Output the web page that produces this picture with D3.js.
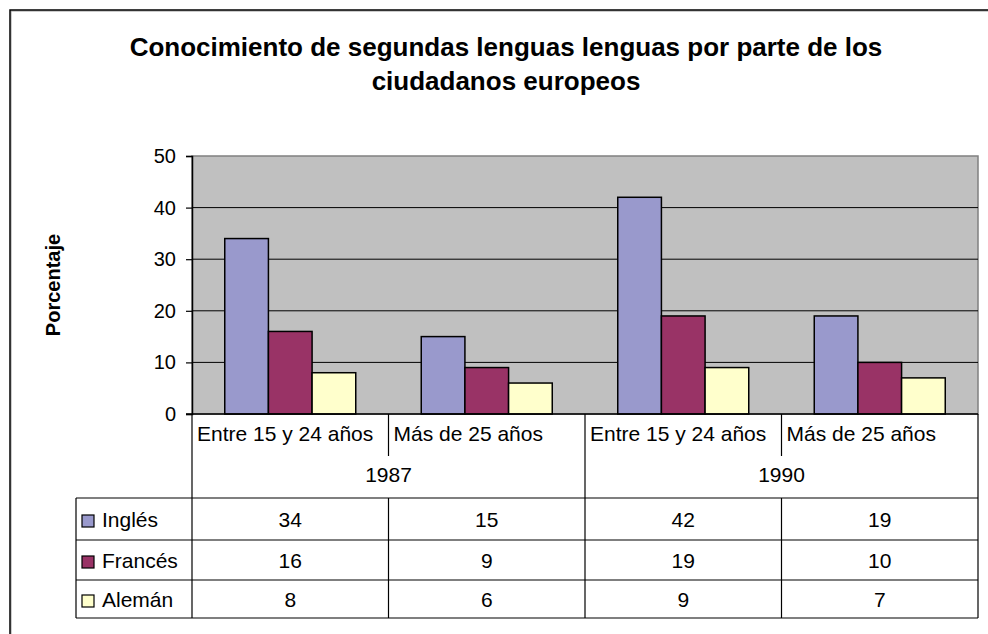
<!DOCTYPE html>
<html>
<head>
<meta charset="utf-8">
<script src="https://cdn.jsdelivr.net/npm/d3@7"></script>
<style>
  body { margin: 0; background: #fff; }
  text { font-family: Arial, "Liberation Sans", sans-serif; fill: #000; }
</style>
</head>
<body>
<svg id="chart" width="988" height="634"></svg>
<script>
// data
const years = ['1987', '1990'];
const ageGroups = ['Entre 15 y 24 años', 'Más de 25 años'];
const series = ['Inglés', 'Francés', 'Alemán'];
const ingles = [34, 15, 42, 19];
const frances = [16, 9, 19, 10];
const aleman = [8, 6, 9, 7];
const yTicks = [0, 10, 20, 30, 40, 50];

const values = [ingles, frances, aleman];
const colors = ['#9999CC', '#993366', '#FFFFCC'];

// categories: year x age group
const cats = [];
years.forEach(y => ageGroups.forEach(a => cats.push(y + '|' + a)));

const svg = d3.select('#chart');
const plot = { left: 192, right: 978, top: 156, bottom: 414 };
const table = { left: 76, sub: 456, head: 498, rows: [498, 540, 580, 618] };

// outer frame
svg.append('rect')
  .attr('x', 11).attr('y', 11).attr('width', 1000).attr('height', 700)
  .attr('fill', 'none').attr('stroke', '#999').attr('stroke-width', 1);
svg.append('rect')
  .attr('x', 10).attr('y', 10).attr('width', 1000).attr('height', 700)
  .attr('fill', 'none').attr('stroke', '#000').attr('stroke-width', 1.5);

// title
const title = svg.append('text')
  .attr('text-anchor', 'middle')
  .style('font-weight', 'bold')
  .style('font-size', '26px');
title.append('tspan').attr('x', 506).attr('y', 56)
  .text('Conocimiento de segundas lenguas lenguas por parte de los');
title.append('tspan').attr('x', 506).attr('y', 90)
  .text('ciudadanos europeos');

const x0 = d3.scaleBand().domain(cats).range([plot.left, plot.right]);
const x1 = d3.scaleBand().domain(series).range([0, x0.bandwidth()])
  .paddingInner(0).paddingOuter(0.75);
const y = d3.scaleLinear().domain([0, 50]).range([plot.bottom, plot.top]);

// plot background
svg.append('rect')
  .attr('x', plot.left).attr('y', plot.top)
  .attr('width', plot.right - plot.left).attr('height', plot.bottom - plot.top)
  .attr('fill', '#C0C0C0').attr('stroke', '#808080').attr('stroke-width', 1.5);

// gridlines
svg.append('g').selectAll('line')
  .data(yTicks.filter(d => d > 0 && d < 50))
  .enter().append('line')
  .attr('x1', plot.left).attr('x2', plot.right)
  .attr('y1', d => y(d)).attr('y2', d => y(d))
  .attr('stroke', '#000').attr('stroke-width', 1);

// y axis
const yAxis = d3.axisLeft(y).tickValues(yTicks).tickSize(6).tickPadding(10);
const ya = svg.append('g')
  .attr('transform', `translate(${plot.left},0)`)
  .call(yAxis);
ya.select('.domain').attr('stroke', '#000').attr('stroke-width', 1.5);
ya.selectAll('.tick line').attr('stroke', '#000').attr('stroke-width', 1.2);
ya.selectAll('.tick text')
  .style('font-size', '20px').attr('font-family', null);

svg.append('text')
  .attr('transform', `translate(60,${(plot.top + plot.bottom) / 2}) rotate(-90)`)
  .attr('text-anchor', 'middle')
  .style('font-weight', 'bold').style('font-size', '20px')
  .text('Porcentaje');

// bars
const flat = [];
cats.forEach((c, i) => series.forEach((s, j) => flat.push({ c, s, v: values[j][i], col: colors[j] })));
svg.append('g').selectAll('rect')
  .data(flat)
  .enter().append('rect')
  .attr('x', d => x0(d.c) + x1(d.s))
  .attr('y', d => y(d.v))
  .attr('width', x1.bandwidth())
  .attr('height', d => y(0) - y(d.v))
  .attr('fill', d => d.col)
  .attr('stroke', '#000').attr('stroke-width', 1.5);

// bottom axis line
svg.append('line')
  .attr('x1', plot.left - 6).attr('x2', plot.right)
  .attr('y1', plot.bottom).attr('y2', plot.bottom)
  .attr('stroke', '#000').attr('stroke-width', 1.5);

// data table
const tg = svg.append('g');
const line = (xa, ya_, xb, yb) => tg.append('line')
  .attr('x1', xa).attr('y1', ya_).attr('x2', xb).attr('y2', yb)
  .attr('stroke', '#000').attr('stroke-width', 1.2);

// vertical lines
line(plot.left, plot.bottom, plot.left, table.rows[3]);
line(plot.right, plot.bottom, plot.right, table.rows[3]);
line(table.left, table.head, table.left, table.rows[3]);
years.forEach((yr, i) => {
  if (i > 0) line(x0(cats[i * 2]), plot.bottom, x0(cats[i * 2]), table.rows[3]);
  const mid = x0(cats[i * 2 + 1]);
  line(mid, plot.bottom, mid, table.sub);
  line(mid, table.head, mid, table.rows[3]);
});
// horizontal lines
table.rows.forEach(r => line(table.left, r, plot.right, r));

// category labels
tg.selectAll('text.cat')
  .data(cats)
  .enter().append('text')
  .attr('class', 'cat')
  .attr('x', d => x0(d) + 5)
  .attr('y', 441)
  .style('font-size', '21px')
  .text(d => d.split('|')[1]);

// year labels
tg.selectAll('text.year')
  .data(years)
  .enter().append('text')
  .attr('class', 'year')
  .attr('x', (d, i) => x0(cats[i * 2]) + x0.bandwidth())
  .attr('y', 482)
  .attr('text-anchor', 'middle')
  .style('font-size', '21px')
  .text(d => d);

// rows
series.forEach((s, j) => {
  const cy = (table.rows[j] + table.rows[j + 1]) / 2;
  tg.append('rect')
    .attr('x', 82).attr('y', cy - 4)
    .attr('width', 12).attr('height', 12)
    .attr('fill', colors[j]).attr('stroke', '#000').attr('stroke-width', 1.2);
  tg.append('text')
    .attr('x', 102).attr('y', cy + 8)
    .style('font-size', '21px')
    .text(s);
  tg.selectAll(null)
    .data(values[j])
    .enter().append('text')
    .attr('x', (d, i) => x0(cats[i]) + x0.bandwidth() / 2)
    .attr('y', cy + 8)
    .attr('text-anchor', 'middle')
    .style('font-size', '21px')
    .text(d => d);
});
</script>
</body>
</html>
